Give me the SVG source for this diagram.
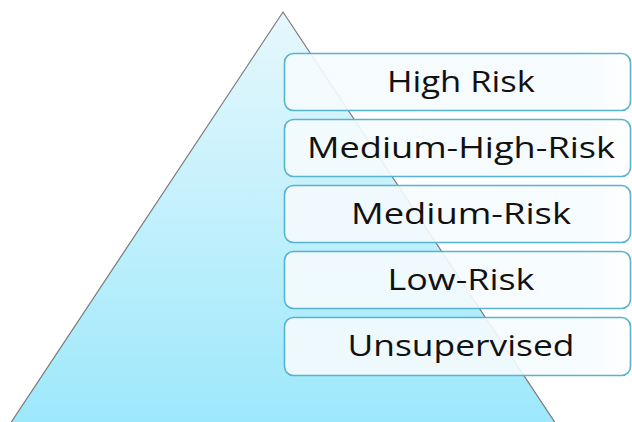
<svg xmlns="http://www.w3.org/2000/svg" width="632" height="422" viewBox="0 0 632 422">
<defs>
<linearGradient id="tri" x1="0" y1="0" x2="0" y2="1">
<stop offset="0" stop-color="#e6f8fd"/>
<stop offset="1" stop-color="#9de8fb"/>
</linearGradient>
<linearGradient id="box" x1="0" y1="0" x2="1" y2="0">
<stop offset="0" stop-color="#f5fbfe" stop-opacity="0.9"/>
<stop offset="0.85" stop-color="#f5fbfe" stop-opacity="0.9"/>
<stop offset="1" stop-color="#ffffff" stop-opacity="0.95"/>
</linearGradient>
</defs>
<style>
.box{fill:url(#box);stroke:#56b4cf;stroke-width:1.6}
.lbl{font-family:"Open Sans","Noto Sans",sans-serif;font-size:29.5px;fill:#111;text-anchor:middle}
</style>
<g id="pyramid">
<polygon points="283,12 10,424 556,424" fill="url(#tri)"/>
<polyline points="10,424 283,12 556,424" fill="none" stroke="#7a7a7a" stroke-width="1.2"/>
</g>
<g id="high-risk">
<rect class="box" x="284.5" y="53.5" width="346" height="57" rx="9"/>
<text class="lbl" x="461" y="91.5" textLength="148" lengthAdjust="spacingAndGlyphs">High Risk</text>
</g>
<g id="medium-high-risk">
<rect class="box" x="284.5" y="119.5" width="346" height="57" rx="9"/>
<text class="lbl" x="461" y="157.5" textLength="308" lengthAdjust="spacingAndGlyphs">Medium-High-Risk</text>
</g>
<g id="medium-risk">
<rect class="box" x="284.5" y="185.5" width="346" height="57" rx="9"/>
<text class="lbl" x="461" y="223.5" textLength="220" lengthAdjust="spacingAndGlyphs">Medium-Risk</text>
</g>
<g id="low-risk">
<rect class="box" x="284.5" y="251.5" width="346" height="57" rx="9"/>
<text class="lbl" x="461" y="289.5" textLength="147" lengthAdjust="spacingAndGlyphs">Low-Risk</text>
</g>
<g id="unsupervised">
<rect class="box" x="284.5" y="317.5" width="346" height="58" rx="9"/>
<text class="lbl" x="461" y="355.5" textLength="227" lengthAdjust="spacingAndGlyphs">Unsupervised</text>
</g>
<g id="connectors"/>
</svg>
